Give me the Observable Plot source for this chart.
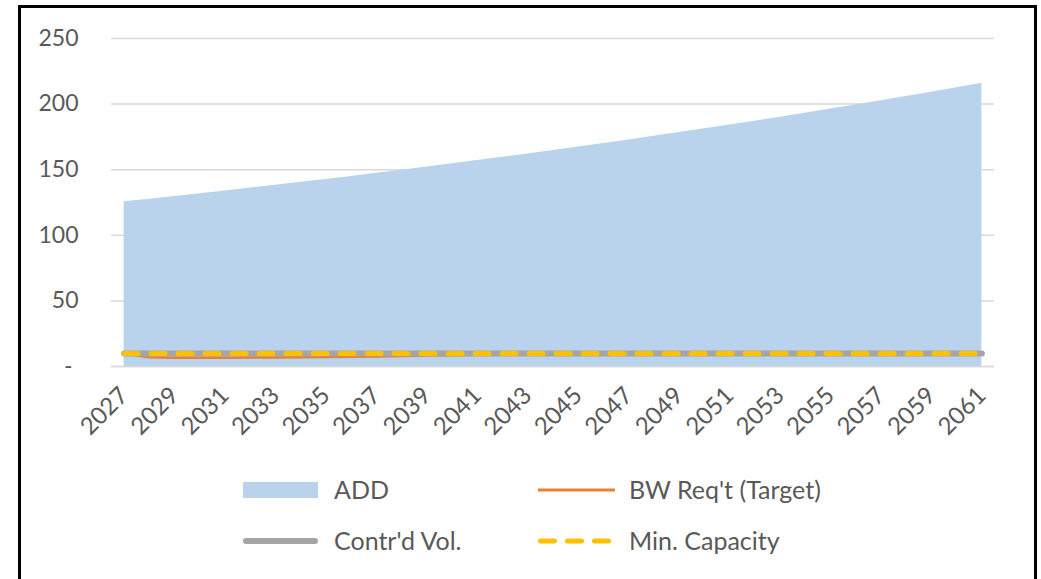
<!DOCTYPE html>
<html>
<head>
<meta charset="utf-8">
<script src="https://cdn.jsdelivr.net/npm/d3@7"></script>
<script src="https://cdn.jsdelivr.net/npm/@observablehq/plot@0.6"></script>
<style>
  html, body { margin: 0; padding: 0; background: #fff; }
  #wrap { position: relative; width: 1041px; height: 579px; overflow: hidden; background: #fff; font-family: Lato, "Open Sans", sans-serif; }
  #frame { position: absolute; left: 18px; top: 5px; width: 1019px; height: 700px; border: 3px solid #000; box-sizing: border-box; }
  #chart { position: absolute; left: 0; top: 0; }
  #legend { position: absolute; left: 0; top: 0; }
</style>
</head>
<body>
<div id="wrap">
  <div id="frame"></div>
  <div id="chart"></div>
  <svg id="legend" width="1041" height="579"></svg>
</div>
<script>
const years = [2027, 2028, 2029, 2030, 2031, 2032, 2033, 2034, 2035, 2036, 2037, 2038, 2039, 2040, 2041, 2042, 2043, 2044, 2045, 2046, 2047, 2048, 2049, 2050, 2051, 2052, 2053, 2054, 2055, 2056, 2057, 2058, 2059, 2060, 2061];
const addValues = [125.5, 127.5, 129.6, 131.7, 133.8, 136.0, 138.2, 140.4, 142.6, 144.9, 147.3, 149.6, 152.0, 154.5, 157.0, 159.5, 162.0, 164.7, 167.3, 170.0, 172.7, 175.5, 178.3, 181.2, 184.1, 187.0, 190.0, 193.1, 196.2, 199.3, 202.5, 205.8, 209.1, 212.4, 215.9];
const bwReqValues = [10, 7, 6.7, 6.7, 6.7, 6.8, 6.9, 7.0, 7.2, 7.4, 7.7, 8.0, 8.3, 8.6, 8.9, 9.1, 9.3, 9.4, 9.5, 9.6, 9.7, 9.7, 9.8, 9.8, 9.8, 9.9, 9.9, 9.9, 9.9, 9.9, 10, 10, 10, 10, 10];
const contrVolValues = [10, 10, 10, 10, 10, 10, 10, 10, 10, 10, 10, 10, 10, 10, 10, 10, 10, 10, 10, 10, 10, 10, 10, 10, 10, 10, 10, 10, 10, 10, 10, 10, 10, 10, 10];
const minCapValues = [10, 10, 10, 10, 10, 10, 10, 10, 10, 10, 10, 10, 10, 10, 10, 10, 10, 10, 10, 10, 10, 10, 10, 10, 10, 10, 10, 10, 10, 10, 10, 10, 10, 10, 10];
const yTicks = [0, 50, 100, 150, 200, 250];
const yTickLabels = ["-\u00A0", "50", "100", "150", "200", "250"];
const xTicks = [2027, 2029, 2031, 2033, 2035, 2037, 2039, 2041, 2043, 2045, 2047, 2049, 2051, 2053, 2055, 2057, 2059, 2061];
const seriesNames = ["ADD", "BW Req't (Target)", "Contr'd Vol.", "Min. Capacity"];
const seriesColors = ["#b9d3ed", "#ed7d31", "#a5a5a5", "#ffc000"];

const data = years.map((year, i) => ({
  year,
  add: addValues[i],
  bw: bwReqValues[i],
  contr: contrVolValues[i],
  min: minCapValues[i]
}));

const chart = Plot.plot({
  width: 1041,
  height: 440,
  marginLeft: 111,
  marginRight: 47,
  marginTop: 38,
  marginBottom: 74,
  x: { domain: [2026.5, 2061.5] },
  y: { domain: [0, 250] },
  style: { fontFamily: "Lato, 'Open Sans', sans-serif", color: "#595959", background: "transparent", overflow: "visible" },
  marks: [
    Plot.ruleY(yTicks, { stroke: "#d9d9d9", strokeWidth: 1.5 }),
    Plot.areaY(data, { x: "year", y: "add", fill: seriesColors[0], fillOpacity: 1 }),
    Plot.ruleY([0], { stroke: "#d9d9d9", strokeWidth: 1.5 }),
    Plot.lineY(data, { x: "year", y: "bw", stroke: seriesColors[1], strokeWidth: 2.5 }),
    Plot.lineY(data, { x: "year", y: "contr", stroke: seriesColors[2], strokeWidth: 6, strokeLinecap: "round" }),
    Plot.lineY(data, { x: "year", y: "min", stroke: seriesColors[3], strokeWidth: 5, strokeDasharray: "14,13", strokeLinecap: "round" }),
    Plot.axisY({ ticks: yTicks, tickFormat: d => yTickLabels[yTicks.indexOf(d)], tickSize: 0, tickPadding: 33, fontSize: 23, label: null }),
    Plot.axisX({ ticks: xTicks, tickFormat: d => String(d), tickRotate: -45, tickSize: 0, tickPadding: 25, dx: 0, fontSize: 24, label: null })
  ]
});
document.getElementById("chart").appendChild(chart);

// Legend
const legend = d3.select("#legend");
const legendItems = [
  { name: seriesNames[0], color: seriesColors[0], kind: "swatch", x: 243, y: 490 },
  { name: seriesNames[1], color: seriesColors[1], kind: "thin", x: 538, y: 490 },
  { name: seriesNames[2], color: seriesColors[2], kind: "thick", x: 243, y: 541 },
  { name: seriesNames[3], color: seriesColors[3], kind: "dash", x: 538, y: 541 }
];
for (const it of legendItems) {
  if (it.kind === "swatch") {
    legend.append("rect").attr("x", it.x).attr("y", it.y - 8).attr("width", 75).attr("height", 16).attr("fill", it.color);
  } else if (it.kind === "thin") {
    legend.append("line").attr("x1", it.x).attr("x2", it.x + 77).attr("y1", it.y).attr("y2", it.y)
      .attr("stroke", it.color).attr("stroke-width", 3);
  } else if (it.kind === "thick") {
    legend.append("line").attr("x1", it.x + 3).attr("x2", it.x + 72).attr("y1", it.y).attr("y2", it.y)
      .attr("stroke", it.color).attr("stroke-width", 6).attr("stroke-linecap", "round");
  } else {
    legend.append("line").attr("x1", it.x + 2.5).attr("x2", it.x + 72).attr("y1", it.y).attr("y2", it.y)
      .attr("stroke", it.color).attr("stroke-width", 5).attr("stroke-linecap", "round").attr("stroke-dasharray", "14,13");
  }
  legend.append("text").attr("x", it.x + 91).attr("y", it.y).attr("dy", "0.36em")
    .attr("fill", "#595959").attr("font-family", "Lato, 'Open Sans', sans-serif").attr("font-size", 25)
    .text(it.name);
}
</script>
</body>
</html>
